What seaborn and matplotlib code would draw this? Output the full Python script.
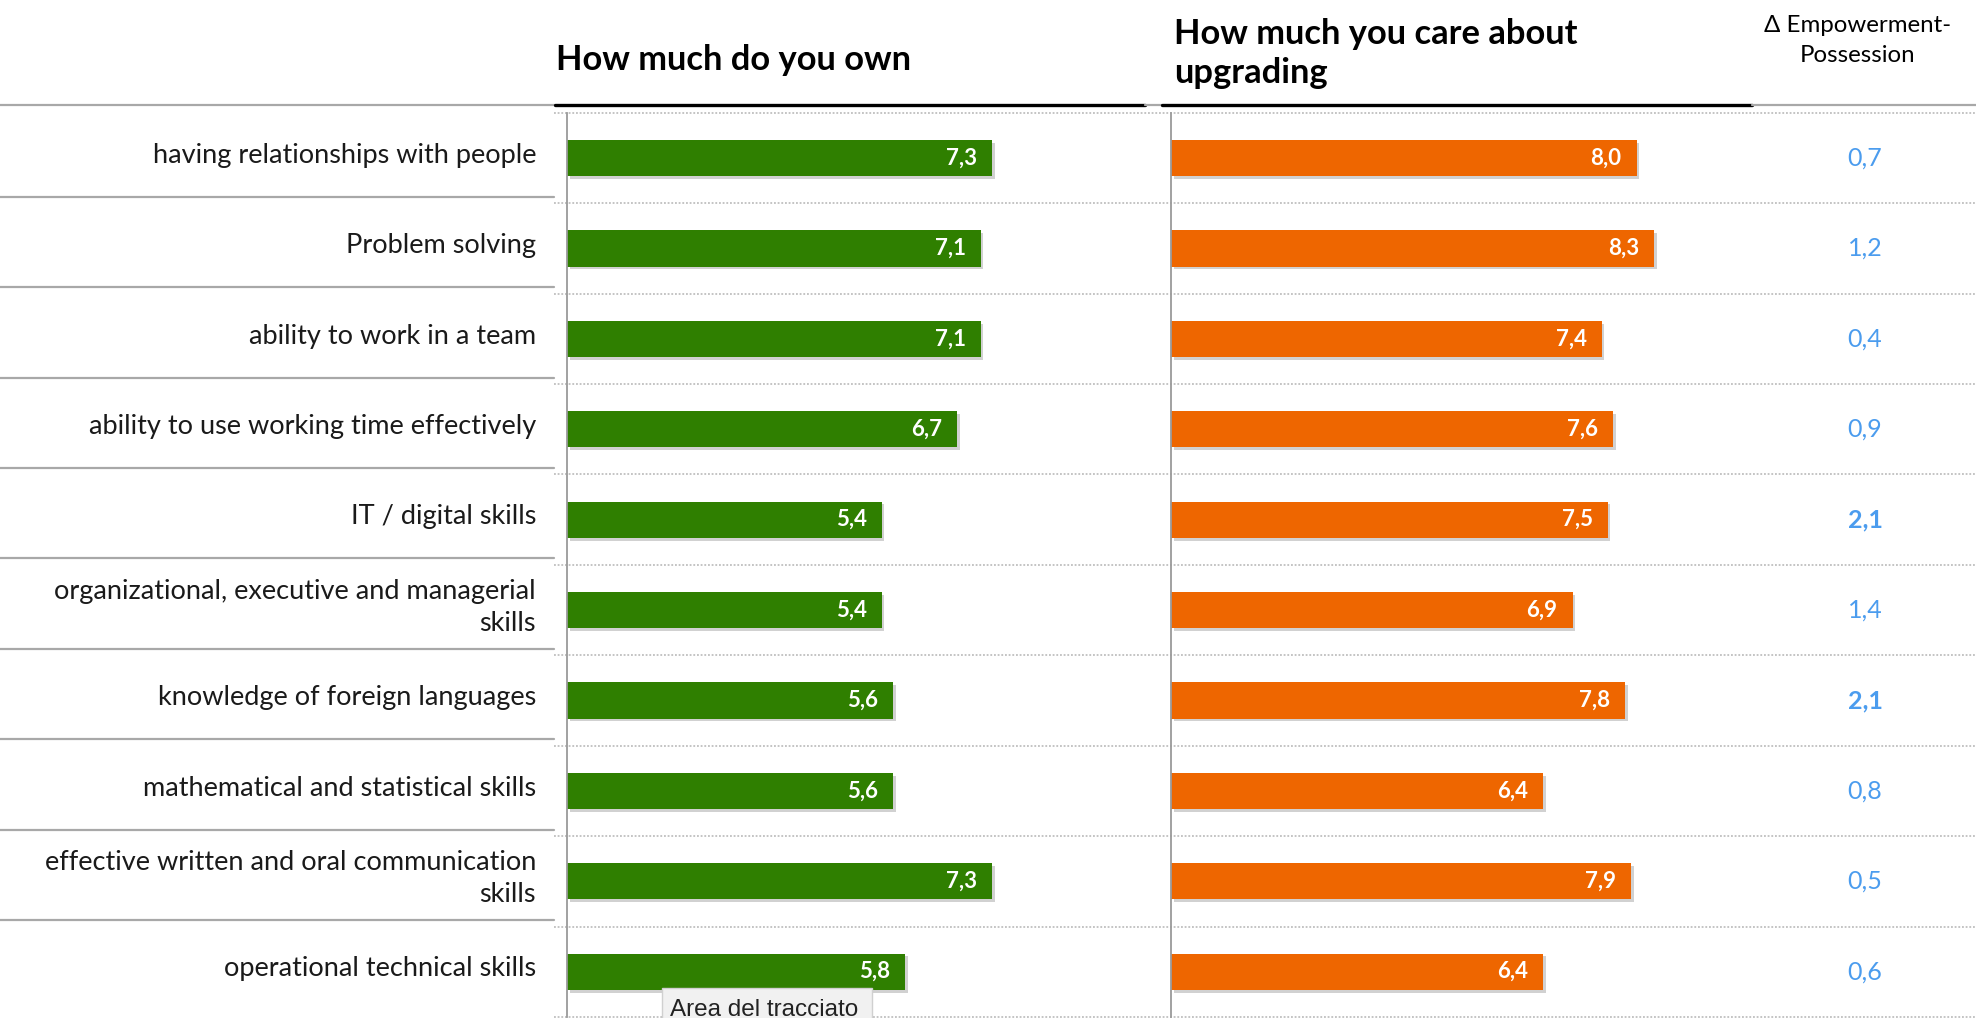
import matplotlib
matplotlib.use("Agg")
import matplotlib.pyplot as plt
import matplotlib.transforms as mtransforms
import matplotlib.patheffects as pe
from matplotlib.patches import Rectangle
import seaborn as sns
import pandas as pd

# ---------------- data ----------------
categories = [
    "having relationships with people",
    "Problem solving",
    "ability to work in a team",
    "ability to use working time effectively",
    "IT / digital skills",
    "organizational, executive and managerial\nskills",
    "knowledge of foreign languages",
    "mathematical and statistical skills",
    "effective written and oral communication\nskills",
    "operational technical skills",
]
own_values = [7.3, 7.1, 7.1, 6.7, 5.4, 5.4, 5.6, 5.6, 7.3, 5.8]
care_values = [8.0, 8.3, 7.4, 7.6, 7.5, 6.9, 7.8, 6.4, 7.9, 6.4]
delta_values = [0.7, 1.2, 0.4, 0.9, 2.1, 1.4, 2.1, 0.8, 0.5, 0.6]

title_own = "How much do you own"
title_care = "How much you care about\nupgrading"
title_delta = "\u0394 Empowerment-\nPossession"
tooltip_text = "Area del tracciato"

GREEN = "#2F7F00"
ORANGE = "#EE6600"
BLUE = "#4B9CEE"
GRID = "#b4b4b4"
SEP = "#a8a8a8"

sns.set_theme(style="white")
FONT = ["Lato", "DejaVu Sans"]
plt.rcParams["font.family"] = FONT

W, H = 1976, 1018
fig = plt.figure(figsize=(W / 100, H / 100), dpi=100)

def fx(px):
    return px / W

def fy(py):
    return 1 - py / H

top_px = 112.9
band = 90.4
bottom_px = top_px + 10 * band
ax_w = 582

ax1 = fig.add_axes([fx(567.3), fy(bottom_px), fx(ax_w), (bottom_px - top_px) / H])
ax2 = fig.add_axes([fx(1171), fy(bottom_px), fx(ax_w), (bottom_px - top_px) / H])

df = pd.DataFrame({"cat": categories, "own": own_values, "care": care_values})

shadow = [pe.SimplePatchShadow(offset=(2, -2), shadow_rgbFace="#000000", alpha=0.18), pe.Normal()]

for ax, col, color in [(ax1, "own", GREEN), (ax2, "care", ORANGE)]:
    sns.barplot(data=df, x=col, y="cat", orient="h", color=color, width=0.40,
                saturation=1, ax=ax, order=categories)
    ax.set_xlim(0, 10)
    ax.set_ylim(9.5, -0.5)
    ax.set_xlabel("")
    ax.set_ylabel("")
    ax.set_xticks([])
    ax.set_yticks([])
    for s in ["top", "right", "bottom"]:
        ax.spines[s].set_visible(False)
    ax.spines["left"].set_color("#9a9a9a")
    ax.spines["left"].set_linewidth(1.3)
    ax.patch.set_alpha(0)
    for p in ax.patches:
        p.set_path_effects(shadow)
        p.set_edgecolor("none")
    vals = df[col].tolist()
    for i, v in enumerate(vals):
        ax.annotate(f"{v:.1f}".replace(".", ","), xy=(v, i), xytext=(-15, 0),
                    textcoords="offset pixels", ha="right", va="center",
                    color="white", fontsize=16, fontweight="bold")

# overlay transform: figure x, data y
tr = mtransforms.blended_transform_factory(fig.transFigure, ax1.transData)

# dotted gridlines
for k in range(11):
    y = k - 0.5
    ax1.plot([fx(554), 1], [y, y], transform=tr, color=GRID, lw=1.1,
             dashes=(1.2, 1.2), clip_on=False, zorder=0)

# solid separators in label area
off = 6.5 / band
for k in range(1, 10):
    y = k - 0.5 - off
    ax1.plot([0, fx(554)], [y, y], transform=tr, color=SEP, lw=1.6,
             clip_on=False, zorder=0)

# category labels
for i, c in enumerate(categories):
    ax1.text(fx(536), i - 0.03, c, transform=tr, ha="right", va="center",
             fontsize=19.5, color="#1a1a1a", linespacing=1.35, multialignment="right")

# delta values
for i, d in enumerate(delta_values):
    ax1.text(fx(1865), i, f"{d:.1f}".replace(".", ","), transform=tr, ha="center",
             va="center", fontsize=18, color=BLUE,
             fontweight="bold" if d >= 2 else "normal")

# header line at y=105
yline = fy(105)
segs = [(0, 555, SEP, 1.6), (555, 1145, "black", 2.4), (1145, 1162, SEP, 1.6),
        (1162, 1752, "black", 2.4), (1752, W, SEP, 1.6)]
for x0, x1, c, lw in segs:
    fig.add_artist(plt.Line2D([fx(x0), fx(x1)], [yline, yline], color=c, lw=lw,
                              transform=fig.transFigure))

# headers
fig.text(fx(556), fy(60), title_own, ha="left", va="center", fontsize=24.8,
         fontweight="bold", color="black")
fig.text(fx(1174), fy(53.5), title_care, ha="left", va="center", fontsize=24.8,
         fontweight="bold", color="black", linespacing=1.28)
fig.text(fx(1858), fy(40.5), title_delta, ha="center", va="center", fontsize=17.3,
         color="black", linespacing=1.5)

# tooltip
fig.add_artist(Rectangle((fx(662), fy(1040)), fx(872 - 662), (1040 - 988) / H,
                         transform=fig.transFigure, facecolor="#f1f1f1",
                         edgecolor="#d0d0d0", lw=1, zorder=5))
fig.text(fx(670), fy(1010), tooltip_text, ha="left", va="center", fontsize=17.5,
         family=["Liberation Sans", "DejaVu Sans"], color="#222222", zorder=6)

fig.savefig("out.png", dpi=100)
